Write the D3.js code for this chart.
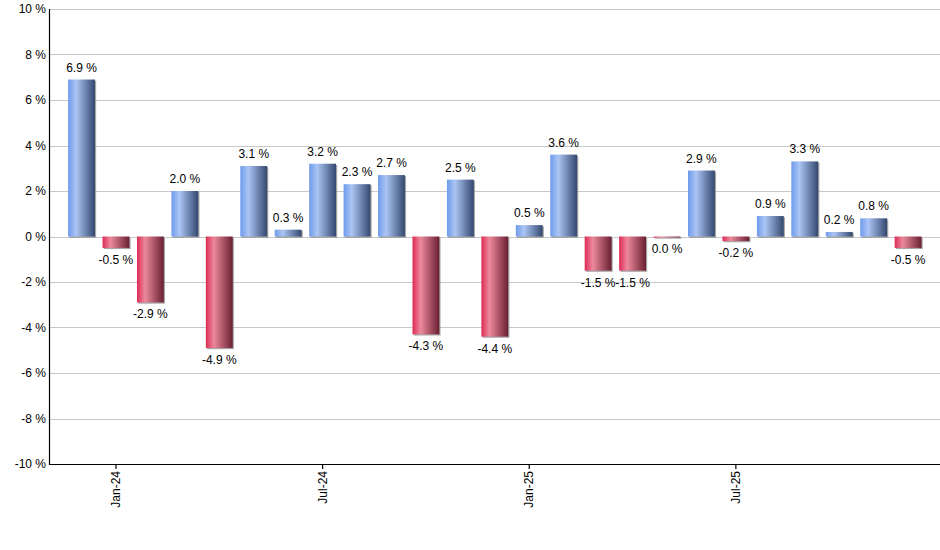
<!DOCTYPE html>
<html><head><meta charset="utf-8">
<script src="https://cdn.jsdelivr.net/npm/d3@7"></script>
<style>body{margin:0;background:#fff;}svg{display:block;font-family:"Liberation Sans",Arial,sans-serif;}</style>
</head><body>
<svg id="c" width="940" height="550"></svg>
<script>
const months = ["Dec-23","Jan-24","Feb-24","Mar-24","Apr-24","May-24","Jun-24","Jul-24","Aug-24","Sep-24","Oct-24","Nov-24","Dec-24","Jan-25","Feb-25","Mar-25","Apr-25","May-25","Jun-25","Jul-25","Aug-25","Sep-25","Oct-25","Nov-25","Dec-25"];
const values = [6.9,-0.5,-2.9,2.0,-4.9,3.1,0.3,3.2,2.3,2.7,-4.3,2.5,-4.4,0.5,3.6,-1.5,-1.5,-0.04,2.9,-0.2,0.9,3.3,0.2,0.8,-0.5];
const yTicks = [-10,-8,-6,-4,-2,0,2,4,6,8,10];
const xTickLabels = ["Jan-24","Jul-24","Jan-25","Jul-25"];

(function(){
const svg = d3.select("#c");
const pL = 49, pT = 9, pB = 464, pR = 940;
const y = d3.scaleLinear().domain([-10,10]).range([pB, pT]);
const x = d3.scaleBand().domain(months).range([64.3, 64.3 + 25*34.44]).paddingInner(0.22).paddingOuter(0.11);

const defs = svg.append("defs");
function grad(id, stops){
  const g = defs.append("linearGradient").attr("id", id).attr("x1","0").attr("x2","1").attr("y1","0").attr("y2","0");
  stops.forEach(s => g.append("stop").attr("offset", s[0]).attr("stop-color", s[1]));
}
grad("gBlue", [[0,"#6e9bea"],[0.3,"#abc5f5"],[1,"#34486e"]]);
grad("gRed", [[0,"#dd2a55"],[0.3,"#ec899c"],[1,"#6a1f31"]]);

// grid
svg.append("g").selectAll("line").data(yTicks).join("line")
  .attr("x1", pL).attr("x2", pR)
  .attr("y1", d => Math.round(y(d)) + 0.5).attr("y2", d => Math.round(y(d)) + 0.5)
  .attr("stroke", "#c8c8c8").attr("stroke-width", 1);

// y labels
svg.append("g").selectAll("text").data(yTicks).join("text")
  .attr("x", 46).attr("y", d => y(d)).attr("dy", "0.35em")
  .attr("text-anchor", "end").attr("font-size", 12).attr("fill", "#000")
  .text(d => d + " %");

// bars
const bw = x.bandwidth();
const bars = svg.append("g");
bars.selectAll("rect.sh").data(values).join("rect").attr("class","sh")
  .attr("x", (d,i) => x(months[i]) + 1.2)
  .attr("y", d => Math.min(y(d), y(0)) + 1.2)
  .attr("width", bw).attr("height", d => Math.max(1, Math.abs(y(d) - y(0))))
  .attr("fill", "#8a8a8a").attr("opacity", 0.75);
bars.selectAll("rect.b").data(values).join("rect").attr("class","b")
  .attr("x", (d,i) => x(months[i]))
  .attr("y", d => Math.min(y(d), y(0)))
  .attr("width", bw).attr("height", d => Math.max(1, Math.abs(y(d) - y(0))))
  .attr("fill", d => d >= 0 ? "url(#gBlue)" : "url(#gRed)");

// value labels
const fmt = v => (Math.abs(v) < 0.05 ? "0.0" : v.toFixed(1)) + " %";
svg.append("g").selectAll("text").data(values).join("text")
  .attr("x", (d,i) => x(months[i]) + bw/2)
  .attr("y", d => d >= 0 ? y(d) - 8 : y(d) + 16)
  .attr("text-anchor", "middle").attr("font-size", 12).attr("fill", "#000")
  .text(fmt);

// axes lines
svg.append("line").attr("x1", pL+0.5).attr("x2", pL+0.5).attr("y1", pT).attr("y2", pB+1)
  .attr("stroke", "#000").attr("stroke-width", 1.2);
svg.append("line").attr("x1", pL).attr("x2", pR).attr("y1", pB+0.5).attr("y2", pB+0.5)
  .attr("stroke", "#000").attr("stroke-width", 1.2);

// x ticks
const xt = svg.append("g");
xTickLabels.forEach(m => {
  const cx = x(m) + bw/2;
  xt.append("line").attr("x1", cx).attr("x2", cx).attr("y1", pB).attr("y2", pB + 5)
    .attr("stroke", "#000").attr("stroke-width", 1.2);
  xt.append("text").attr("transform", `translate(${cx},${pB + 7}) rotate(-90)`)
    .attr("dy", "0.35em").attr("text-anchor", "end").attr("font-size", 12).attr("fill", "#000")
    .text(m);
});
})();
</script>
</body></html>
